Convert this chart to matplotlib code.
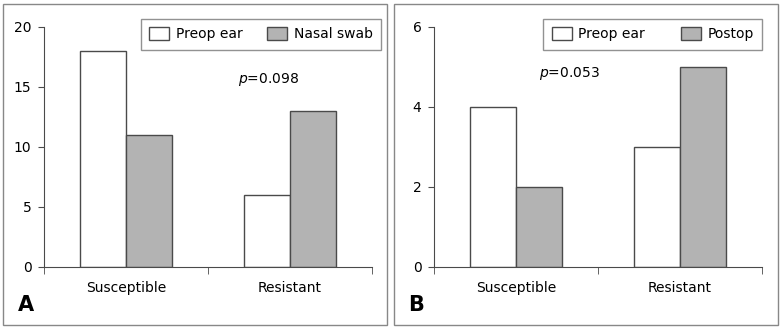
import matplotlib
matplotlib.use('Agg')
import matplotlib.pyplot as plt
from matplotlib.patches import Rectangle, Patch

# Data
categories = ['Susceptible', 'Resistant']
preop_ear_a = [18, 6]
nasal_swab_a = [11, 13]
preop_ear_b = [4, 3]
postop_b = [2, 5]

plt.rcParams['font.family'] = ['DejaVu Sans']
plt.rcParams['font.size'] = 10

W, H = 782, 330
fig = plt.figure(figsize=(W / 100, H / 100), dpi=100)

white = 'white'
grey = '#b3b3b3'
edge = '#4a4a4a'
bw = 0.28


def fx(px):
    return px / W


def fy(py):
    return 1 - py / H


def panel(left, data1, data2, name1, name2, ymax, yticks, ptext, pxy, legend_right,
          colsp, letter):
    ax = fig.add_axes([fx(left), fy(267), fx(328), (267 - 27) / H])
    x = range(len(categories))
    ax.bar([i - bw / 2 for i in x], data1, bw, color=white, edgecolor=edge, linewidth=1)
    ax.bar([i + bw / 2 for i in x], data2, bw, color=grey, edgecolor=edge, linewidth=1)
    ax.set_xlim(-0.5, 1.5)
    ax.set_ylim(0, ymax)
    ax.set_yticks(yticks)
    ax.set_xticks(list(x))
    ax.set_xticklabels(categories)
    ax.set_xticks([-0.5, 0.5, 1.5], minor=True)
    ax.tick_params(axis='x', which='major', length=0, pad=10, labelsize=10)
    ax.tick_params(axis='x', which='minor', length=5, color=edge)
    ax.tick_params(axis='y', length=4, color=edge, pad=5, labelsize=10)
    for s in ['top', 'right']:
        ax.spines[s].set_visible(False)
    for s in ['left', 'bottom']:
        ax.spines[s].set_color(edge)
    ax.text(fx(pxy[0]), fy(pxy[1]), r'$p$=' + ptext, transform=fig.transFigure,
            ha='left', va='center', fontsize=10)
    handles = [Patch(facecolor=white, edgecolor=edge, label=name1),
               Patch(facecolor=grey, edgecolor=edge, label=name2)]
    leg = fig.legend(handles=handles, loc='upper right', ncol=2,
                     bbox_to_anchor=(fx(legend_right), fy(19)),
                     frameon=True, fancybox=False, edgecolor='#777777',
                     handlelength=1.45, handleheight=1.0, handletextpad=0.45,
                     columnspacing=colsp, borderpad=0.6, borderaxespad=0,
                     fontsize=10)
    leg.get_frame().set_linewidth(1)
    fig.text(fx(left - 26), fy(305), letter, fontsize=15, fontweight='bold',
             ha='left', va='center')
    return ax


# panel borders
for x0 in [3, 394]:
    fig.add_artist(Rectangle((fx(x0), fy(325)), fx(384), (325 - 4) / H,
                             transform=fig.transFigure, fill=False,
                             edgecolor='#888888', linewidth=1))

panel(44, preop_ear_a, nasal_swab_a, 'Preop ear', 'Nasal swab', 20, [0, 5, 10, 15, 20],
      '0.098', (238, 80), 381, 1.8, 'A')
panel(434, preop_ear_b, postop_b, 'Preop ear', 'Postop', 6, [0, 2, 4, 6],
      '0.053', (539, 73), 762, 2.6, 'B')

fig.savefig('out.png', dpi=100)
